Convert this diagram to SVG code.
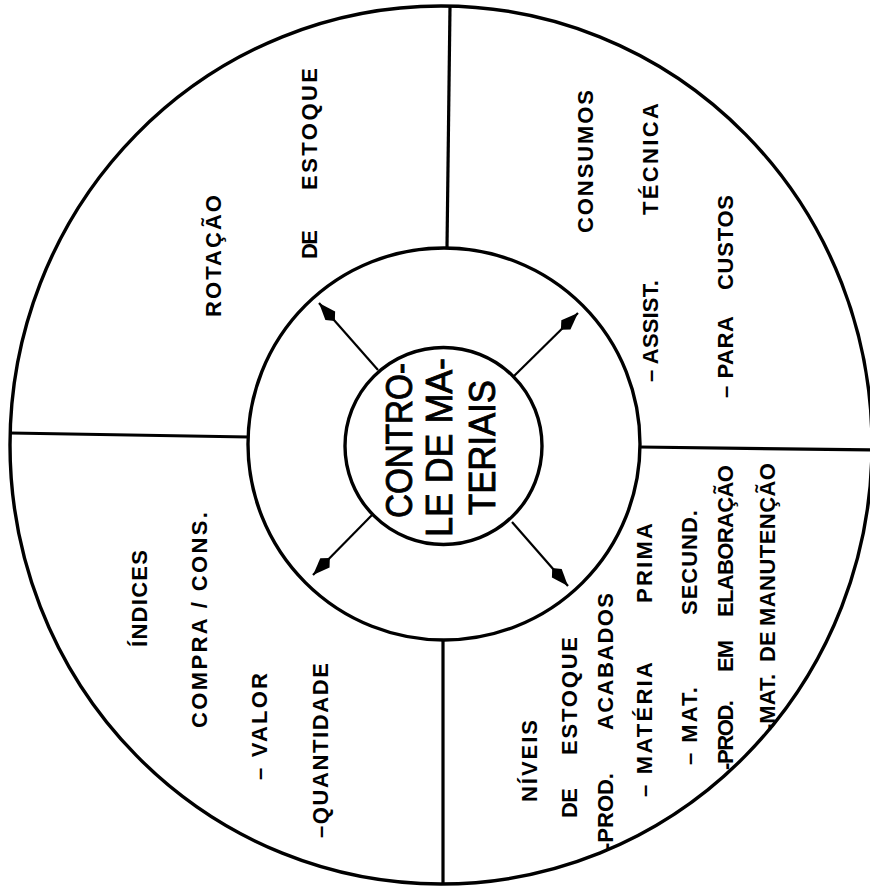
<svg xmlns="http://www.w3.org/2000/svg" width="870" height="890" viewBox="0 0 870 890">
<style>
.ring{fill:none;stroke:#000;stroke-width:3.4}
.div{stroke:#000;stroke-width:3.2;fill:none}
.arr{stroke:#000;stroke-width:2.2;fill:none;marker-end:url(#ah)}
.t{font-family:"Liberation Sans",Arial,sans-serif;font-weight:bold;font-size:22px;fill:#000}
.c{font-family:"Liberation Sans",Arial,sans-serif;font-size:37px;fill:#000;stroke:#000;stroke-width:0.9}
</style>
<defs>
<marker id="ah" markerUnits="userSpaceOnUse" viewBox="0 -8 26 16" refX="25" refY="0" markerWidth="26" markerHeight="16" orient="auto">
<path d="M25,0 L8,-6.5 L1,0 L8,6.5 Z" fill="#000"/>
</marker>
</defs>
<rect width="870" height="890" fill="#fff"/>
<g id="rings">
<ellipse class="ring" cx="441" cy="445" rx="431" ry="439"/>
<circle class="ring" cx="444" cy="444" r="196"/>
</g>
<g id="dividers">
<line class="div" x1="450" y1="6" x2="447" y2="247"/>
<line class="div" x1="639" y1="447" x2="872" y2="450"/>
<line class="div" x1="10" y1="433" x2="249" y2="437"/>
<line class="div" x1="443" y1="640" x2="443" y2="884"/>
</g>
<g id="connectors">
<line class="arr" x1="378" y1="370" x2="319" y2="303"/>
<line class="arr" x1="513" y1="377" x2="578" y2="313"/>
<line class="arr" x1="372" y1="515" x2="313" y2="575"/>
<line class="arr" x1="512" y1="522" x2="568" y2="586"/>
</g>
<g id="center">
<circle class="ring" cx="443.5" cy="446" r="98.5"/>
<g transform="rotate(-90)">
<text class="c" x="-518" y="412" textLength="155" lengthAdjust="spacingAndGlyphs">CONTRO-</text>
<text class="c" x="-537" y="452" textLength="179" lengthAdjust="spacingAndGlyphs">LE DE MA-</text>
<text class="c" x="-515" y="495" textLength="135" lengthAdjust="spacingAndGlyphs">TERIAIS</text>
</g>
</g>
<g id="rotacao" transform="rotate(-90)">
<text class="t" x="-317" y="221" textLength="122" lengthAdjust="spacing">ROTAÇÃO</text>
<text class="t"><tspan x="-259" y="317" textLength="29" lengthAdjust="spacing">DE</tspan> <tspan x="-190" y="317" textLength="122" lengthAdjust="spacing">ESTOQUE</tspan></text>
</g>
<g id="consumos" transform="rotate(-90)">
<text class="t" x="-233" y="593" textLength="143" lengthAdjust="spacing">CONSUMOS</text>
<text class="t"><tspan x="-382" y="658" textLength="102" lengthAdjust="spacing">– ASSIST.</tspan> <tspan x="-215" y="658" textLength="112" lengthAdjust="spacing">TÉCNICA</tspan></text>
<text class="t"><tspan x="-398" y="733" textLength="81" lengthAdjust="spacing">– PARA</tspan> <tspan x="-290" y="733" textLength="95" lengthAdjust="spacing">CUSTOS</tspan></text>
</g>
<g id="indices" transform="rotate(-90)">
<text class="t" x="-647" y="147" textLength="97" lengthAdjust="spacing">ÍNDICES</text>
<text class="t" x="-728" y="207" textLength="216" lengthAdjust="spacing">COMPRA / CONS.</text>
<text class="t" x="-780" y="267" textLength="107" lengthAdjust="spacing">– VALOR</text>
<text class="t" x="-838" y="328" textLength="175" lengthAdjust="spacing">–QUANTIDADE</text>
</g>
<g id="niveis" transform="rotate(-90)">
<text class="t" x="-802" y="537" textLength="82" lengthAdjust="spacing">NÍVEIS</text>
<text class="t"><tspan x="-818" y="577" textLength="30" lengthAdjust="spacing">DE</tspan> <tspan x="-755" y="577" textLength="118" lengthAdjust="spacing">ESTOQUE</tspan></text>
<text class="t"><tspan x="-850" y="613" textLength="77" lengthAdjust="spacing">-PROD.</tspan> <tspan x="-730" y="613" textLength="137" lengthAdjust="spacing">ACABADOS</tspan></text>
<text class="t"><tspan x="-797" y="652" textLength="134" lengthAdjust="spacing">– MATÉRIA</tspan> <tspan x="-603" y="652" textLength="80" lengthAdjust="spacing">PRIMA</tspan></text>
<text class="t"><tspan x="-765" y="697" textLength="78" lengthAdjust="spacing">– MAT.</tspan> <tspan x="-615" y="697" textLength="105" lengthAdjust="spacing">SECUND.</tspan></text>
<text class="t"><tspan x="-770" y="733" textLength="70" lengthAdjust="spacing">-PROD.</tspan> <tspan x="-672" y="733" textLength="32" lengthAdjust="spacing">EM</tspan> <tspan x="-617" y="733" textLength="152" lengthAdjust="spacing">ELABORAÇÃO</tspan></text>
<text class="t"><tspan x="-731" y="775">-MAT.</tspan> <tspan x="-662" y="775">DE</tspan> <tspan x="-626" y="775" textLength="163" lengthAdjust="spacing">MANUTENÇÃO</tspan></text>
</g>
</svg>
